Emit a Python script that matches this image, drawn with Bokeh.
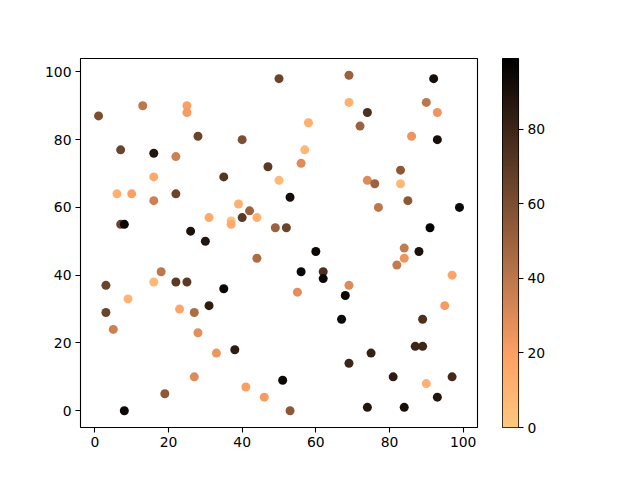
import numpy as np
from bokeh.plotting import figure
from bokeh.layouts import row
from bokeh.models import ColumnDataSource, LinearColorMapper, FixedTicker
from bokeh.embed import file_html
from bokeh.resources import INLINE

# points: position and colour value
xs = [50, 13, 25, 25, 1, 28, 40, 7, 16, 22, 47, 16, 50, 35, 6, 10, 22, 16, 39, 42,
      44, 40, 31, 37, 37, 7, 8, 49, 26, 30, 69, 92, 69, 90, 74, 93, 58, 72, 86, 93,
      57, 56, 83, 74, 76, 83, 53, 85, 77, 99, 52, 91, 44, 18, 3, 16, 22, 25, 35, 9,
      31, 3, 23, 27, 5, 28, 33, 38, 27, 41, 46, 19, 8, 60, 84, 88, 84, 82, 97, 56,
      62, 62, 69, 55, 68, 95, 67, 89, 87, 89, 75, 69, 51, 81, 97, 90, 93, 53, 74, 84]
ys = [98, 90, 90, 88, 87, 81, 80, 77, 76, 75, 72, 69, 68, 69, 64, 64, 64, 62, 61, 59,
      57, 57, 57, 56, 55, 55, 55, 54, 53, 50, 99, 98, 91, 91, 88, 88, 85, 84, 81, 80,
      77, 73, 71, 68, 67, 67, 63, 62, 60, 60, 54, 54, 45, 41, 37, 38, 38, 38, 36, 33,
      31, 29, 30, 29, 24, 23, 17, 18, 10, 7, 4, 5, 0, 47, 48, 47, 45, 43, 40, 41,
      41, 39, 37, 35, 34, 31, 27, 27, 19, 19, 17, 14, 9, 10, 10, 8, 4, 0, 1, 1]
cs = [65, 40, 20, 22, 60, 65, 60, 65, 88, 35, 70, 15, 8, 72, 12, 20, 65, 35, 12, 50,
      12, 70, 15, 5, 15, 65, 95, 50, 90, 88, 50, 92, 12, 40, 75, 25, 12, 50, 25, 92,
      8, 30, 55, 30, 50, 8, 92, 55, 40, 95, 65, 99, 45, 40, 65, 8, 70, 70, 95, 10,
      85, 65, 18, 45, 35, 28, 25, 85, 30, 20, 22, 55, 95, 95, 38, 90, 25, 38, 18, 95,
      75, 95, 30, 28, 95, 22, 95, 75, 80, 80, 82, 80, 95, 85, 78, 12, 88, 55, 88, 92]

x_ticks = [0, 20, 40, 60, 80, 100]
y_ticks = [0, 20, 40, 60, 80, 100]
c_ticks = [0, 20, 40, 60, 80]
c_low, c_high = 0, 99


# copper colormap, reversed (light for low values)
def copper_r(n=256):
    cols = []
    for i in range(n):
        t = 1 - i / (n - 1)
        r = min(1.0, t / 0.809524)
        g = 0.7812 * t
        b = 0.4975 * t
        cols.append("#%02x%02x%02x" % (round(r * 255), round(g * 255), round(b * 255)))
    return cols


mapper = LinearColorMapper(palette=copper_r(), low=c_low, high=c_high)
src = ColumnDataSource(dict(x=xs, y=ys, c=cs))


def style_axis(ax):
    ax.axis_line_color = None
    ax.minor_tick_line_color = None
    ax.major_tick_in = 0
    ax.major_tick_out = 5
    ax.major_tick_line_width = 1.1
    ax.major_label_text_font = "DejaVu Sans"
    ax.major_label_text_font_size = "13.9px"
    ax.major_label_text_color = "black"
    ax.major_label_standoff = 4


p = figure(
    frame_width=397, frame_height=369,
    x_range=(-3.9, 103.9), y_range=(-4.95, 103.95),
    min_border_left=80, min_border_top=58, min_border_bottom=45, min_border_right=25,
    output_backend="svg", toolbar_location=None,
)
p.scatter("x", "y", source=src, size=9, line_color=None,
          fill_color={"field": "c", "transform": mapper})
p.xgrid.visible = False
p.ygrid.visible = False
p.outline_line_color = "black"
p.outline_line_width = 1.1
p.xaxis.ticker = FixedTicker(ticks=x_ticks)
p.yaxis.ticker = FixedTicker(ticks=y_ticks)
style_axis(p.xaxis)
style_axis(p.yaxis)

# colour bar as its own small plot
cb = figure(
    frame_width=16, frame_height=369,
    x_range=(0, 1), y_range=(c_low, c_high), y_axis_location="right",
    min_border_left=0, min_border_top=58, min_border_bottom=45, min_border_right=40,
    output_backend="svg", toolbar_location=None,
)
grad = np.linspace(c_low, c_high, 256).reshape(-1, 1)
cb.image(image=[grad], x=0, y=c_low, dw=1, dh=c_high - c_low, color_mapper=mapper)
cb.xaxis.visible = False
cb.xgrid.visible = False
cb.ygrid.visible = False
cb.outline_line_color = "black"
cb.outline_line_width = 1.1
cb.yaxis.ticker = FixedTicker(ticks=c_ticks)
style_axis(cb.yaxis)

layout = row(p, cb, spacing=0)
open("out.html", "w").write(file_html(layout, INLINE))
